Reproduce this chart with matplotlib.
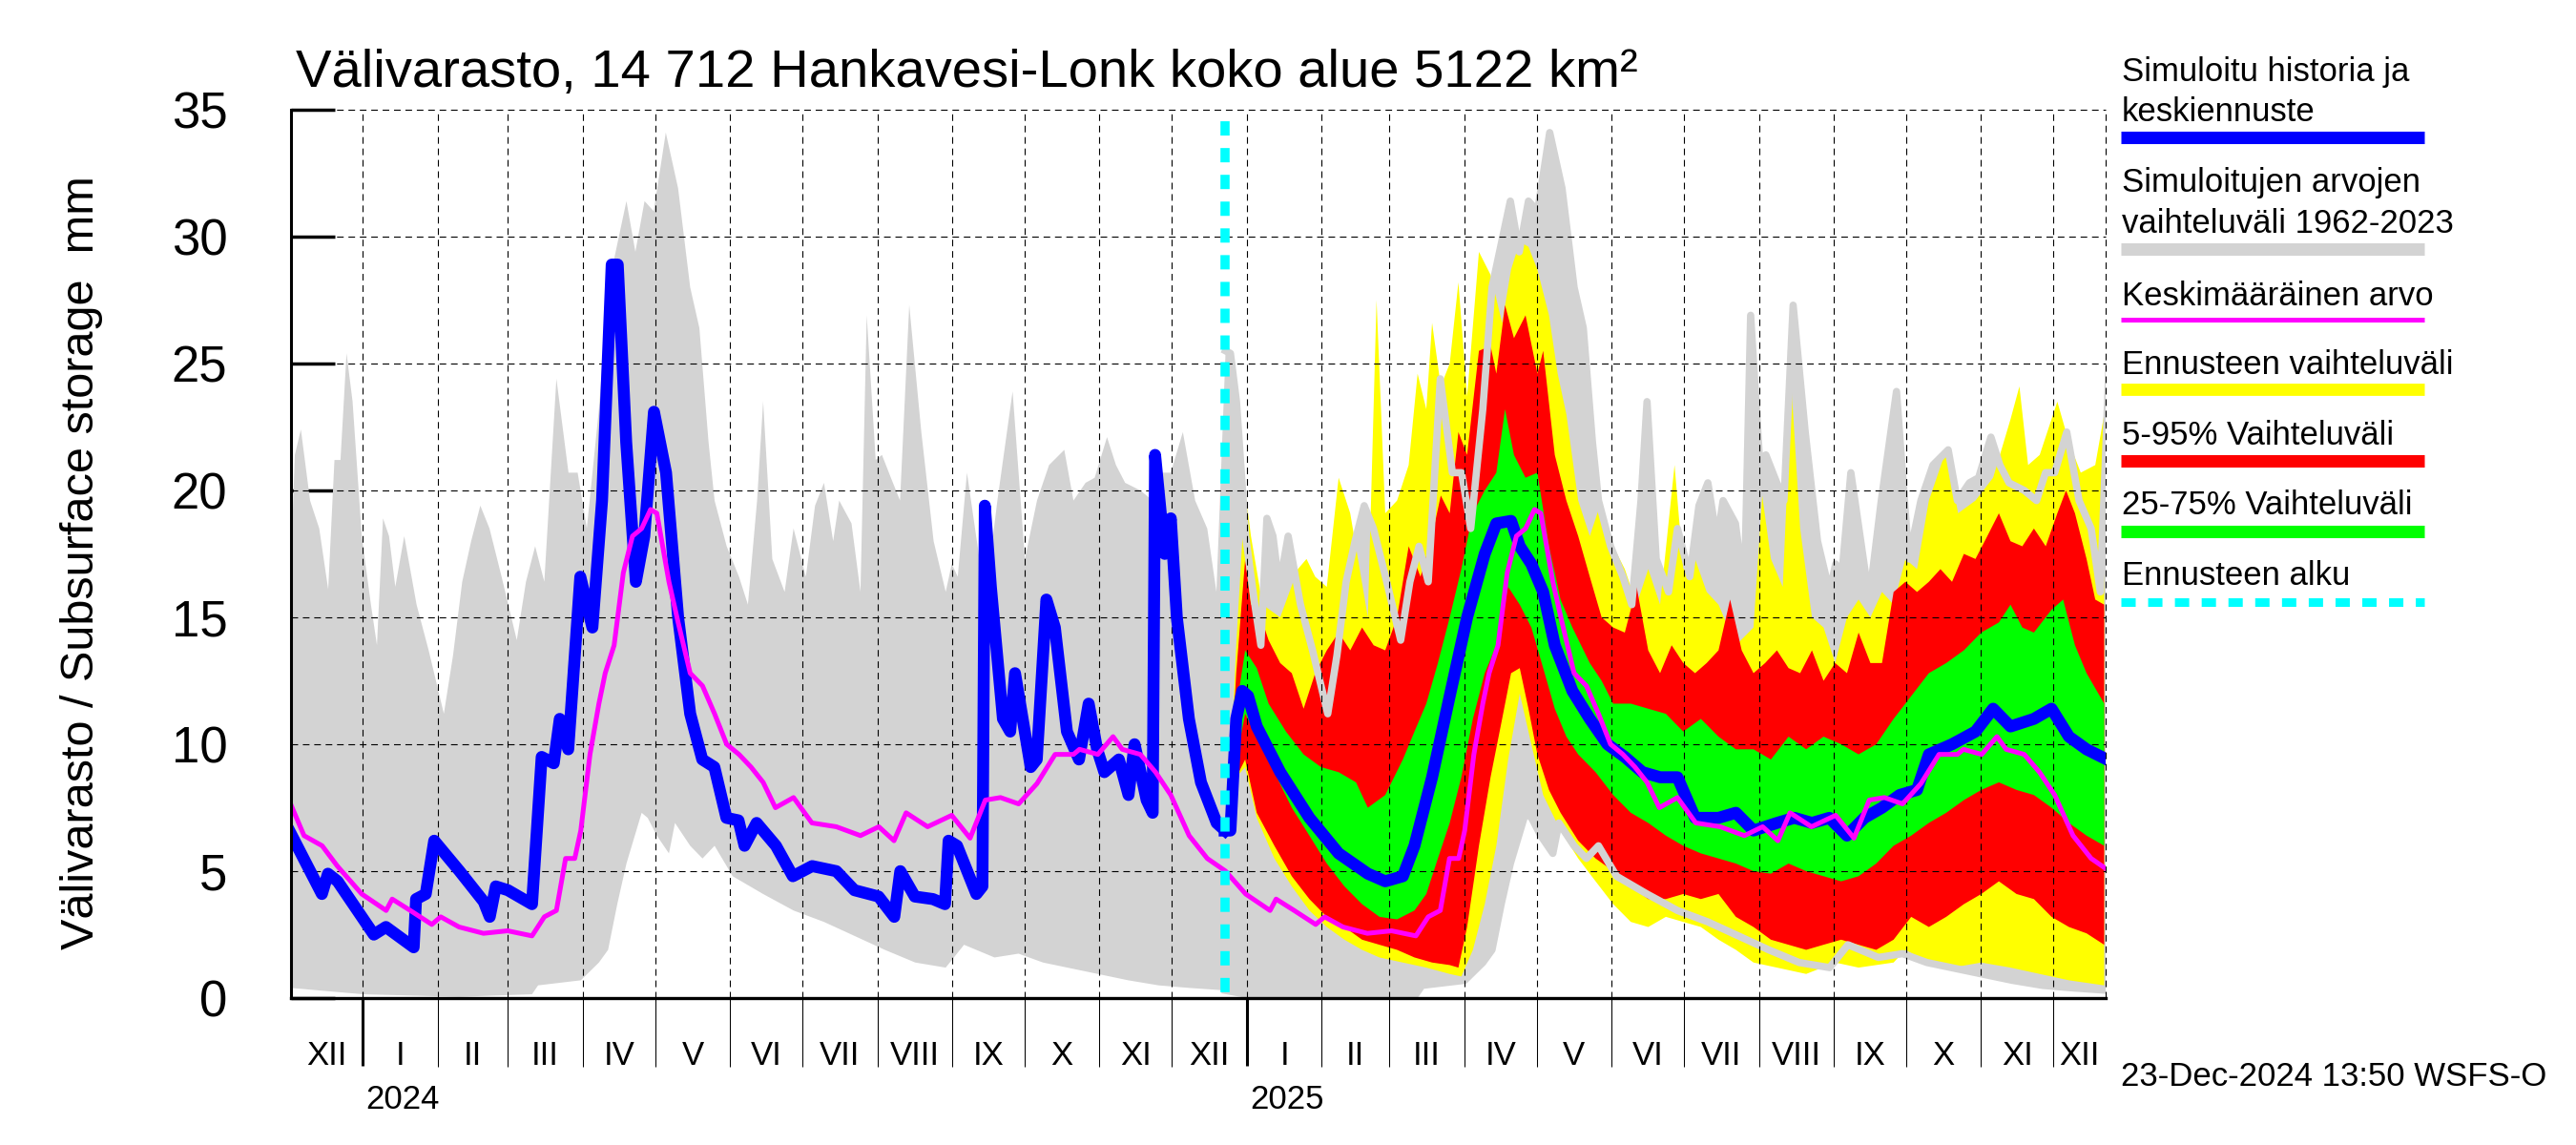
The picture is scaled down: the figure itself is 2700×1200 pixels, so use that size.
import datetime as dt
import numpy as np
import matplotlib
matplotlib.use("Agg")
import matplotlib.pyplot as plt
from matplotlib.lines import Line2D
from matplotlib.transforms import blended_transform_factory

plt.rcParams['font.family'] = ['Liberation Sans', 'DejaVu Sans']
plt.rcParams['lines.scale_dashes'] = False

# ---------------- data ----------------
# x values of history / climatology series: days since 2024-01-01
hist_day = [-30, -17, -14.5, -10.5, 4.5, 9.5, 21, 22, 26, 29.5, 40, 50, 52.5, 55, 60, 70, 74, 79, 81.5, 85,
            90, 95, 99, 103, 105.5, 109, 113, 116.5, 120.5, 125.5, 130.5, 135.5, 140.5, 145.5, 150.5, 155.5,
            158, 163, 171, 178, 186, 196, 203.5, 213.5, 220, 222.5, 228.5, 236, 241, 242.5, 246, 254, 256.5,
            257.5, 260, 265, 268, 270, 276.5, 279, 283, 286.5, 291.5, 296.5, 300.5, 304, 307, 313, 317, 319.5,
            324.5, 327, 328, 332, 334.5, 337, 342, 347, 353.5, 357]
hist_val = [6.5, 4.1, 4.9, 4.6, 2.5, 2.8, 2.0, 3.9, 4.1, 6.2, 5.0, 3.8, 3.2, 4.4, 4.25, 3.7, 9.5, 9.25, 11.0, 9.8,
            16.6, 14.6, 19.6, 28.9, 28.9, 21.9, 16.4, 18.2, 23.1, 20.7, 15.0, 11.2, 9.4, 9.1, 7.1, 7.0,
            6.0, 6.9, 6.0, 4.8, 5.2, 5.0, 4.25, 4.0, 3.2, 5.0, 4.0, 3.9, 3.7, 6.2, 6.0, 4.1, 4.4,
            19.4, 16.2, 11.0, 10.5, 12.8, 9.1, 9.4, 15.7, 14.6, 10.5, 9.4, 11.6, 9.8, 8.9, 9.4, 8.0, 10.0,
            7.8, 7.3, 21.4, 17.5, 18.9, 15.0, 11.0, 8.5, 6.9, 6.6]

# climatology 1962-2023 (same for each calendar day), read over Dec 2023 - Dec 2024
cmax_day = [-30.2, -28.2, -25.7, -21.9, -18.1, -14.4, -11.8, -9.3, -6.8, -4.3,
            -0.5, 3.3, 5.8, 8.3, 10.8, 13.4, 17.1, 22.2, 27.2, 33.5,
            37.3, 41.1, 44.8, 48.6, 52.4, 57.4, 63.7, 67.5, 71.3, 75.1,
            80.1, 85.1, 88.9, 92.7, 97.7, 101.5, 109.1, 112.8, 116.6, 120.4,
            125.4, 130.5, 135.5, 139.3, 143.1, 145.6, 150.6, 155.7, 159.4, 163.2,
            165.7, 169.5, 174.6, 178.3, 183.4, 187.2, 190.9, 194.7, 197.2, 202.3,
            206.0, 208.6, 212.3, 214.9, 218.6, 222.4, 226.2, 231.2, 236.3, 241.3,
            243.8, 246.3, 250.1, 253.9, 257.7, 262.7, 269.0, 274.1, 279.1, 284.1,
            290.4, 294.2, 299.2, 303.0, 308.1, 311.8, 315.6, 321.9, 327.0, 330.7,
            334.5, 339.5, 344.6, 349.6, 353.4, 357.2]
cmax_val = [16.0, 21.4, 22.4, 19.6, 18.5, 16.1, 21.2, 21.2, 25.4, 23.5,
            18.2, 15.5, 13.9, 18.9, 18.2, 16.2, 18.2, 15.5, 13.7, 11.2,
            13.5, 16.4, 18.0, 19.4, 18.5, 16.6, 14.1, 16.4, 17.8, 16.4,
            24.4, 20.7, 20.7, 18.5, 23.2, 28.0, 31.4, 29.4, 31.4, 31.0,
            34.1, 31.9, 28.0, 26.4, 21.9, 19.6, 17.8, 16.6, 15.5, 19.6,
            23.5, 17.3, 16.0, 18.5, 16.6, 19.4, 20.3, 18.0, 19.6, 18.7,
            16.0, 26.9, 21.2, 21.4, 20.5, 19.6, 27.3, 22.3, 18.0, 16.0,
            17.1, 16.6, 20.7, 18.2, 15.7, 19.6, 23.9, 17.3, 19.6, 21.0,
            21.6, 19.6, 20.3, 20.5, 22.1, 21.0, 20.3, 20.0, 19.6, 20.7,
            20.7, 22.3, 19.6, 18.5, 16.0, 25.5]
cmin_day = [-30, 0, 39.8, 70, 72.5, 90.2, 97.7, 101.5, 105.3, 109.1, 115.4, 117.9, 121.7, 126.7, 129.2,
            135.5, 140.6, 145.6, 153.1, 165.7, 178.3, 190.9, 203.5, 216.1, 228.7, 241.3, 248.9, 261.5,
            271.5, 281.6, 291.7, 304.3, 316.9, 329.5, 342.1, 357.2]
cmin_val = [0.4, 0.15, 0.05, 0.15, 0.5, 0.7, 1.4, 1.9, 3.7, 5.3, 7.3, 7.1, 6.4, 5.7, 6.9,
            6.0, 5.5, 6.0, 4.8, 4.1, 3.45, 3.0, 2.45, 1.9, 1.4, 1.2, 2.1, 1.6,
            1.75, 1.4, 1.2, 0.95, 0.7, 0.5, 0.4, 0.3]
mean_day = [-30.2, -24.4, -16.9, -10.6, -0.5, 9.6, 12.1, 19.6, 28.5, 32.2, 39.8, 49.9, 59.9, 70.0, 75.1,
            80.1, 83.9, 87.7, 90.2, 94.0, 97.7, 100.3, 104.0, 107.8, 111.6, 115.4, 119.1, 121.7, 126.7,
            130.5, 135.5, 140.6, 145.6, 150.6, 155.7, 160.7, 165.7, 170.8, 178.3, 185.9, 196.0, 206.0,
            213.6, 219.9, 224.9, 233.8, 243.8, 251.4, 257.7, 264.0, 271.5, 279.1, 286.6, 294.2, 296.7,
            304.3, 310.6, 314.4, 321.9, 328.2, 334.5, 342.1, 349.6, 357.2]
mean_val = [7.7, 6.4, 6.0, 5.2, 4.1, 3.45, 3.9, 3.45, 2.9, 3.2, 2.8, 2.55, 2.65, 2.45, 3.2,
            3.45, 5.5, 5.5, 6.6, 9.6, 11.6, 12.8, 13.9, 16.75, 18.2, 18.5, 19.25, 19.1, 16.4,
            14.8, 12.8, 12.3, 11.2, 10.0, 9.6, 9.1, 8.5, 7.5, 7.9, 6.9, 6.75, 6.4,
            6.75, 6.2, 7.3, 6.75, 7.2, 6.3, 7.8, 7.9, 7.65, 8.45, 9.6, 9.6, 9.8,
            9.6, 10.3, 9.8, 9.6, 8.9, 8.0, 6.4, 5.5, 5.0]

# forecast series: days since 2025-01-01
med_day = [-9.2, -6.8, -4.4, -1.9, 0.5, 4.1, 13.8, 25.9, 38.0, 50.1, 57.3, 64.6, 69.4, 76.7, 84.0,
           91.2, 98.5, 103.3, 109.4, 113.0, 117.8, 122.7, 127.5, 134.8, 142.0, 149.3, 156.5, 163.8,
           171.1, 178.3, 185.6, 195.3, 202.5, 209.8, 219.5, 226.7, 234.0, 241.2, 248.5, 255.7, 263.0,
           270.3, 277.5, 282.4, 292.0, 301.7, 309.0, 316.2, 325.9, 333.2, 340.4, 347.7, 356.1]
med_val = [6.6, 6.6, 11.0, 12.1, 11.9, 10.7, 8.9, 7.1, 5.7, 4.9, 4.6, 4.8, 6.0, 8.7, 11.9,
           15.0, 17.5, 18.7, 18.8, 17.8, 17.1, 16.0, 13.9, 12.1, 11.0, 10.0, 9.5, 8.9,
           8.7, 8.7, 7.1, 7.1, 7.3, 6.6, 6.9, 7.1, 6.9, 7.1, 6.4, 7.1, 7.5,
           8.0, 8.2, 9.6, 10.0, 10.5, 11.4, 10.7, 11.0, 11.4, 10.3, 9.8, 9.4]

ymax_day = [-8.0, -4.4, -0.7, 1.7, 6.5, 13.8, 21.1, 24.7, 28.3, 33.1, 38.0, 42.8, 50.1, 53.7, 57.3,
            62.2, 67.0, 70.7, 74.3, 76.7, 80.3, 84.0, 87.6, 91.2, 96.1, 100.9, 105.7, 109.4, 113.0, 116.6,
            120.3, 125.1, 128.7, 132.3, 137.2, 142.0, 146.9, 151.7, 156.5, 161.4, 166.2, 171.1, 177.1,
            180.7, 185.6, 190.4, 195.3, 202.5, 209.8, 213.4, 217.0, 221.9, 225.5, 229.1, 234.0, 238.8,
            243.6, 248.5, 253.3, 258.2, 263.0, 267.8, 272.7, 277.5, 282.4, 289.6, 294.5, 301.7, 309.0,
            316.2, 319.9, 323.5, 328.3, 335.6, 340.4, 345.3, 351.3, 355.0]
ymax_val = [6.6, 13.9, 20.0, 18.2, 15.5, 15.0, 16.9, 17.3, 16.6, 16.2, 20.5, 19.1, 15.0, 27.5, 19.1,
            19.6, 21.0, 24.6, 23.2, 26.6, 24.1, 25.0, 28.2, 23.7, 29.4, 28.5, 26.6, 28.7, 29.8, 29.6,
            28.7, 26.9, 24.6, 23.0, 19.6, 18.2, 19.6, 17.8, 16.9, 15.5, 16.9, 15.5, 21.0,
            16.9, 17.3, 16.0, 15.5, 13.9, 14.6, 19.8, 17.3, 16.2, 24.1, 18.5, 15.0, 14.6,
            13.2, 15.0, 15.7, 15.0, 16.0, 15.5, 17.3, 16.9, 19.6, 21.6, 19.1, 19.6, 20.5,
            22.8, 24.1, 21.0, 21.4, 23.5, 21.9, 20.7, 21.0, 23.0]
ymin_day = [-8.0, -4.4, -0.7, 4.1, 11.4, 18.6, 25.9, 33.1, 40.4, 47.7, 54.9, 64.6, 74.3, 84.0, 88.8,
            93.6, 98.5, 103.3, 108.2, 113.0, 117.8, 122.7, 129.9, 137.2, 144.4, 151.7, 159.0, 166.2,
            173.5, 180.7, 188.0, 195.3, 202.5, 209.8, 219.5, 231.6, 243.6, 253.3, 267.8, 272.7, 282.4,
            292.0, 304.1, 316.2, 328.3, 340.4, 355.0]
ymin_val = [6.6, 8.7, 9.1, 7.1, 5.5, 4.4, 3.45, 2.8, 2.3, 1.9, 1.6, 1.4, 1.2, 0.95, 0.85,
            1.9, 3.7, 6.0, 9.4, 12.0, 10.0, 8.0, 6.6, 5.5, 4.6, 3.7, 3.0, 2.8,
            3.2, 3.0, 2.8, 2.3, 1.9, 1.4, 1.2, 0.95, 1.4, 1.2, 1.4, 1.9, 1.4,
            1.2, 1.4, 1.2, 0.95, 0.7, 0.5]

p95_day = [-8.0, -4.4, -0.7, 1.7, 4.1, 9.0, 13.8, 18.6, 23.5, 28.3, 33.1, 38.0, 42.8, 47.7, 52.5,
           57.3, 62.2, 67.0, 71.9, 76.7, 80.3, 84.0, 87.6, 91.2, 96.1, 100.9, 103.3, 106.9, 110.6, 115.4,
           120.3, 122.7, 127.5, 132.3, 137.2, 142.0, 146.9, 151.7, 156.5, 161.4, 166.2, 171.1, 175.9,
           180.7, 185.6, 190.4, 195.3, 200.1, 204.9, 209.8, 214.6, 219.5, 224.3, 229.1, 234.0, 238.8,
           243.6, 248.5, 253.3, 258.2, 263.0, 267.8, 272.7, 277.5, 282.4, 287.2, 292.0, 296.9, 301.7,
           306.6, 311.4, 316.2, 321.1, 325.9, 330.8, 335.6, 339.2, 342.9, 347.7, 351.3, 355.0]
p95_val = [6.6, 12.8, 17.3, 15.5, 15.5, 14.1, 13.2, 12.8, 11.4, 12.8, 13.7, 14.4, 13.7, 14.6, 13.9,
           13.7, 15.0, 17.8, 16.6, 18.2, 19.8, 19.1, 22.3, 21.4, 25.5, 25.7, 24.6, 27.3, 26.0, 26.9,
           24.6, 25.5, 21.4, 19.6, 18.2, 16.6, 15.0, 14.6, 14.4, 16.2, 13.7, 12.8, 13.9,
           13.2, 12.8, 13.2, 13.7, 15.7, 13.7, 12.8, 13.2, 13.7, 13.0, 12.8, 13.7, 12.5,
           13.2, 12.8, 14.4, 13.2, 13.2, 16.0, 16.4, 16.0, 16.4, 16.9, 16.4, 17.5, 17.3,
           18.2, 19.1, 18.0, 17.8, 18.5, 17.8, 19.1, 20.0, 19.1, 17.3, 15.7, 15.5]
p05_day = [-8.0, -4.4, -0.7, 4.1, 11.4, 18.6, 25.9, 33.1, 40.4, 47.7, 54.9, 62.2, 69.4, 76.7, 84.0,
           87.6, 91.2, 96.1, 100.9, 105.7, 109.4, 113.0, 116.6, 120.3, 125.1, 129.9, 137.2, 144.4,
           151.7, 159.0, 166.2, 173.5, 180.7, 188.0, 195.3, 202.5, 209.8, 217.0, 224.3, 231.6, 238.8,
           246.1, 253.3, 260.6, 267.8, 275.1, 282.4, 289.6, 296.9, 304.1, 311.4, 318.7, 325.9, 333.2,
           340.4, 347.7, 355.0]
p05_val = [6.6, 8.7, 9.4, 7.3, 6.0, 4.8, 3.9, 3.2, 2.8, 2.3, 2.1, 1.9, 1.6, 1.4, 1.3,
           1.2, 2.8, 6.0, 8.7, 11.0, 12.8, 13.0, 11.4, 9.6, 8.2, 7.3, 6.2, 5.5,
           5.0, 4.4, 3.9, 3.9, 4.1, 3.9, 4.1, 3.2, 2.8, 2.3, 2.1, 1.9, 2.1,
           2.3, 2.1, 1.9, 2.3, 3.2, 2.8, 3.2, 3.7, 4.1, 4.6, 4.1, 3.9, 3.2,
           2.8, 2.55, 2.1]

p75_day = [-8.0, -4.4, -0.7, 4.1, 9.0, 16.2, 23.5, 30.7, 38.0, 45.2, 50.1, 57.3, 64.6, 69.4, 74.3,
           79.1, 84.0, 88.8, 93.6, 98.5, 103.3, 106.9, 110.6, 115.4, 120.3, 125.1, 129.9, 134.8, 142.0,
           146.9, 151.7, 159.0, 166.2, 173.5, 180.7, 188.0, 195.3, 202.5, 209.8, 217.0, 224.3, 231.6,
           238.8, 246.1, 253.3, 260.6, 267.8, 275.1, 282.4, 289.6, 296.9, 304.1, 311.4, 316.2, 321.1,
           325.9, 333.2, 338.0, 342.9, 347.7, 355.0]
p75_val = [6.6, 11.4, 13.7, 13.0, 11.6, 10.5, 9.6, 9.1, 8.9, 8.5, 7.5, 8.0, 9.4, 10.5, 11.6,
           13.2, 15.0, 16.9, 19.1, 20.0, 20.7, 23.2, 21.4, 20.5, 20.7, 17.8, 15.7, 14.6, 13.2,
           12.5, 11.6, 11.6, 11.4, 11.2, 10.5, 11.0, 10.3, 9.8, 9.8, 9.4, 10.3, 9.8,
           10.3, 10.0, 9.6, 10.0, 11.0, 11.9, 12.8, 13.2, 13.7, 14.4, 14.8, 15.5, 14.6,
           14.4, 15.3, 15.7, 13.9, 12.8, 11.6]
p25_day = [-8.0, -4.4, -0.7, 4.1, 11.4, 18.6, 25.9, 33.1, 40.4, 47.7, 54.9, 62.2, 69.4, 74.3, 79.1,
           84.0, 88.8, 93.6, 98.5, 103.3, 108.2, 113.0, 117.8, 122.7, 127.5, 132.3, 137.2, 144.4,
           151.7, 159.0, 166.2, 173.5, 180.7, 188.0, 195.3, 202.5, 209.8, 217.0, 224.3, 231.6, 238.8,
           246.1, 253.3, 260.6, 267.8, 275.1, 282.4, 289.6, 296.9, 304.1, 311.4, 318.7, 325.9, 333.2,
           340.4, 347.7, 355.0]
p25_val = [6.6, 9.4, 11.2, 10.3, 8.9, 7.5, 6.4, 5.3, 4.4, 3.7, 3.2, 3.1, 3.45, 4.1, 5.5,
           6.9, 8.7, 11.0, 12.8, 13.9, 16.2, 15.5, 14.6, 13.0, 11.4, 10.3, 9.6, 8.9,
           8.0, 7.3, 6.9, 6.4, 6.0, 5.7, 5.5, 5.3, 5.0, 4.9, 5.3, 5.0, 4.8,
           4.6, 4.8, 5.3, 6.0, 6.4, 6.9, 7.3, 7.8, 8.2, 8.5, 8.2, 8.0, 7.5,
           6.9, 6.4, 6.0]

forecast_start = dt.date(2024, 12, 23)
month_names = ['I', 'II', 'III', 'IV', 'V', 'VI', 'VII', 'VIII', 'IX', 'X', 'XI', 'XII']
title = "Välivarasto, 14 712 Hankavesi-Lonk koko alue 5122 km²"
ylabel = "Välivarasto / Subsurface storage  mm"
stamp = "23-Dec-2024 13:50 WSFS-O"
legend_rows = [("Simuloitu historia ja", "keskiennuste"),
               ("Simuloitujen arvojen", "vaihteluväli 1962-2023"),
               ("Keskimääräinen arvo",), ("Ennusteen vaihteluväli",),
               ("5-95% Vaihteluväli",), ("25-75% Vaihteluväli",), ("Ennusteen alku",)]

# ---------------- styling / layout ----------------
BASE = dt.date(2024, 1, 1)
OFF25 = (dt.date(2025, 1, 1) - BASE).days
FC0 = (forecast_start - BASE).days
XMIN, XMAX = -29.8, 721.6
W, H = 2700, 1200
C_GRAY = '#d3d3d3'
C_BLUE = '#0000ff'
C_MAG = '#ff00ff'
C_YEL = '#ffff00'
C_RED = '#ff0000'
C_GRN = '#00ff00'
C_CYAN = '#00ffff'

A = lambda v: np.asarray(v, dtype=float)

fig = plt.figure(figsize=(27, 12), dpi=100)
ax = fig.add_axes([305 / W, 1 - 1046 / H, (2207 - 305) / W, (1046 - 115) / H])
ax.set_xlim(XMIN, XMAX)
ax.set_ylim(0, 35)
ax.set_axisbelow(True)
for s in ('top', 'right'):
    ax.spines[s].set_visible(False)
ax.spines['left'].set_linewidth(2.2)
ax.spines['bottom'].set_linewidth(2.4)
ax.spines['left'].set_zorder(9)
ax.spines['bottom'].set_zorder(9)


def polygon(xu, yu, xl, yl, **kw):
    xs = np.concatenate([A(xu), A(xl)[::-1]])
    ys = np.concatenate([A(yu), A(yl)[::-1]])
    return ax.fill(xs, ys, lw=0, **kw)[0]


# climatology band: history year and the same calendar days repeated for the forecast year
cmx, cmy = A(cmax_day), A(cmax_val)
cnx, cny = A(cmin_day), A(cmin_val)
selu = cmx + OFF25 > 357.2
sell = cnx + OFF25 > 357.2
up_x = np.concatenate([cmx, cmx[selu] + OFF25])
up_y = np.concatenate([cmy, cmy[selu]])
lo_x = np.concatenate([cnx, cnx[sell] + OFF25])
lo_y = np.concatenate([cny, cny[sell]])
polygon(up_x, up_y, lo_x, lo_y, color=C_GRAY, zorder=1)

# forecast bands
polygon(A(ymax_day) + OFF25, ymax_val, A(ymin_day) + OFF25, ymin_val, color=C_YEL, zorder=2)
polygon(A(p95_day) + OFF25, p95_val, A(p05_day) + OFF25, p05_val, color=C_RED, zorder=3)
polygon(A(p75_day) + OFF25, p75_val, A(p25_day) + OFF25, p25_val, color=C_GRN, zorder=4)

# climatology limits drawn again as lines over the forecast period
fu = up_x >= FC0 - 1
fl = lo_x >= FC0 - 1
ax.plot(up_x[fu], up_y[fu], color=C_GRAY, lw=5.5, zorder=4.5, solid_joinstyle='round')
ax.plot(lo_x[fl], lo_y[fl], color=C_GRAY, lw=5.5, zorder=4.5, solid_joinstyle='round')

# grid
gkw = dict(color='black', lw=0.8, linestyle=(0, (5, 3.6)), zorder=5)
for yv in range(5, 36, 5):
    ax.axhline(yv, clip_on=False, **gkw)

months = []
y, m = 2023, 12
while (y, m) <= (2026, 1):
    months.append((dt.date(y, m, 1) - BASE).days)
    m += 1
    if m == 13:
        y, m = y + 1, 1
for d in months:
    if XMIN < d < XMAX:
        ax.axvline(d, **gkw)
ax.axvline(XMAX, clip_on=False, **gkw)

# mean, simulated/median, forecast start
mx, my = A(mean_day), A(mean_val)
selm = mx + OFF25 > 357.2
ax.plot(np.concatenate([mx, mx[selm] + OFF25]), np.concatenate([my, my[selm]]),
        color=C_MAG, lw=3.6, zorder=7, solid_joinstyle='round')
ax.plot(hist_day, hist_val, color=C_BLUE, lw=9, zorder=6, solid_joinstyle='round')
ax.plot(A(med_day) + OFF25, med_val, color=C_BLUE, lw=9, zorder=6, solid_joinstyle='round')
ax.plot([FC0, FC0], [35, 0], color=C_CYAN, lw=6.9, linestyle=(11.5, (10.8, 9.4)), zorder=8)

# ticks
ax.set_yticks(range(0, 36, 5))
ax.tick_params(axis='y', direction='in', length=33, width=2.5, labelsize=38, pad=48)
ax.set_xticks([d for d in months if XMIN < d < XMAX and (BASE + dt.timedelta(days=d)).month == 1])
ax.set_xticks([d for d in months if XMIN < d < XMAX], minor=True)
ax.tick_params(axis='x', which='major', direction='out', length=51, width=2.2, labelbottom=False)
ax.tick_params(axis='x', which='minor', direction='out', length=52, width=0.75, labelbottom=False)

tr = blended_transform_factory(ax.transData, fig.transFigure)
for a, b in zip(months[:-1], months[1:]):
    lo, hi = max(a, XMIN), min(b, XMAX)
    if hi <= lo:
        continue
    mon = (BASE + dt.timedelta(days=a)).month
    ax.text((lo + hi) / 2, 1 - 1107 / H, month_names[mon - 1], transform=tr,
            ha='center', va='center', fontsize=25)
    if mon == 1:
        ax.text(a + 1.2, 1 - 1152 / H, str((BASE + dt.timedelta(days=a)).year), transform=tr,
                ha='left', va='center', fontsize=25)

# texts
fig.text(310 / W, 1 - 91 / H, title, fontsize=40.5, ha='left', va='baseline')
fig.text(86 / W, 1 - 590 / H, ylabel, fontsize=35, rotation=90, ha='center', va='center')
fig.text(2223 / W, 1 - 1128 / H, stamp, fontsize=25, ha='left', va='center')

# legend
text_base = [(85, 127), (201, 244), (319.5,), (392,), (465.5,), (539,), (613,)]
bars = [(143.5, C_BLUE, 9.4, None), (260.5, C_GRAY, 9.4, None), (334.5, C_MAG, 3.6, None),
        (408.5, C_YEL, 9.2, None), (482.5, C_RED, 9.4, None), (556.5, C_GRN, 9.4, None),
        (630.5, C_CYAN, 6.5, (0, (10.8, 9.4)))]
for rows, bases, (yb, col, lw, ls) in zip(legend_rows, text_base, bars):
    for txt, yy in zip(rows, bases):
        fig.text(2224 / W, 1 - yy / H, txt, fontsize=25, ha='left', va='baseline')
    ln = Line2D([2223 / W, 2541 / W], [1 - yb / H, 1 - yb / H], transform=fig.transFigure,
                color=col, lw=lw, solid_capstyle='butt', dash_capstyle='butt')
    if ls is not None:
        ln.set_linestyle(ls)
    fig.add_artist(ln)

fig.savefig('out.png', dpi=100)
